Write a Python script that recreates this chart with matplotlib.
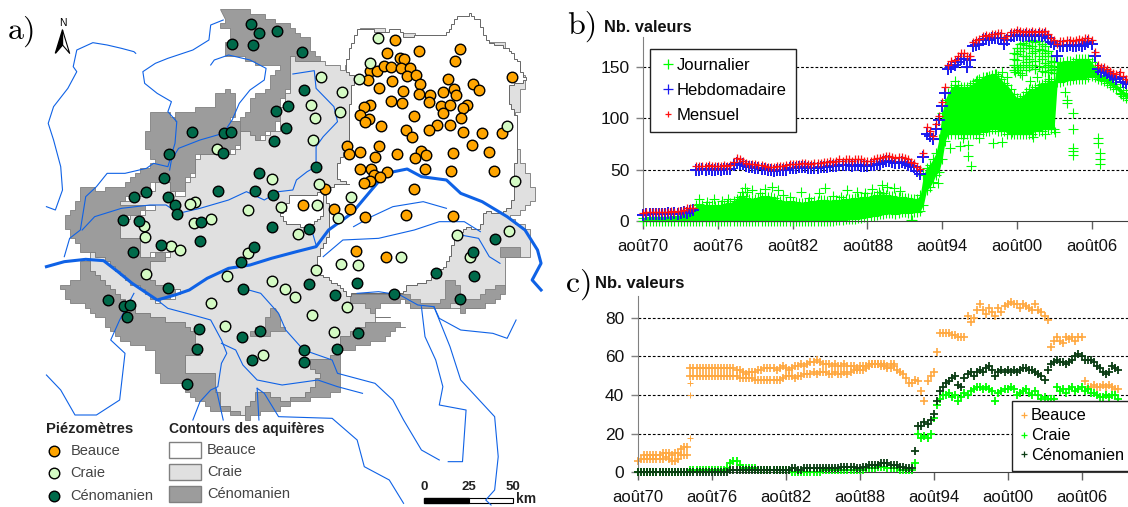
import numpy as np
import matplotlib
matplotlib.use("Agg")
import matplotlib.pyplot as plt

plt.rcParams['font.family'] = ['Liberation Sans', 'DejaVu Sans']

# ---- series, one value per quarter from aout 1970 to aout 2009
hebdo = [6,7,7,7, 7,7,7,7, 8,7,8,7, 8,9,8,10,
         11,50,50,51, 50,51,50,50, 51,50,51,51, 51,55,57,56,
         56,54,53,53, 52,52,51,51, 50,50,49,50, 50,50,50,52,
         52,52,53,53, 53,52,52,52, 52,53,53,53, 54,54,54,55,
         55,55,55,54, 55,55,54,54, 54,55,55,56, 56,58,59,59,
         58,57,57,58, 57,55,54,53, 49,46,62,85, 83,80,90,98,
         112,125,148,150, 152,155,158,158, 150,157,170,171, 172,176,177,176,
         178,178,178,178, 172,176,180,180, 181,181,180,181, 180,181,180,181,
         180,181,178,174, 172,160,170,170, 170,171,170,170, 171,170,172,174,
         172,160,148,145, 146,144,142,140, 138,140,135,134, 133]
mensuel = [8,9,9,9, 9,9,9,9, 9,10,9,10, 10,11,13,13,
           13,54,54,54, 54,55,54,54, 54,54,55,54, 55,58,61,60,
           59,57,56,56, 56,55,55,54, 53,53,53,54, 54,54,55,56,
           56,56,56,57, 57,56,56,57, 57,57,58,58, 59,58,59,60,
           59,60,60,59, 60,60,60,59, 59,59,60,61, 61,62,63,63,
           62,61,62,62, 61,60,58,57, 53,51,66,92, 88,83,94,102,
           116,130,152,156, 157,160,163,163, 160,160,174,176, 177,180,181,180,
           182,182,183,183, 178,180,184,184, 186,185,184,185, 184,185,184,185,
           184,185,182,178, 176,172,175,175, 176,176,175,176, 177,176,178,178,
           176,164,152,150, 150,148,146,144, 143,145,141,138, 137]
journalier_haut = [3,3,4,4, 4,4,4,4, 4,4,5,5, 5,6,7,9,
                   11,16,17,16, 15,15,16,15, 15,16,16,17, 18,20,22,24,
                   25,23,22,21, 22,23,24,25, 24,24,23,21, 20,19,19,20,
                   19,19,18,18, 18,19,19,20, 20,21,21,20, 20,20,21,21,
                   21,22,22,22, 23,23,23,24, 24,24,25,26, 26,27,26,25,
                   25,24,24,24, 23,23,22,22, 22,26,45,52, 55,60,66,80,
                   105,118,125,130, 132,132,130,130, 130,132,134,136, 138,140,140,141,
                   142,143,141,138, 134,132,128,124, 120,120,122,126, 128,128,130,132,
                   133,134,136,136, 135,155,155,155, 156,156,155,158, 158,158,158,158,
                   155,150,145,142, 141,140,137,135, 133,130,127,125, 123]
journalier_bas = [0,0,0,0, 0,0,0,0, 0,0,0,0, 0,0,0,0,
                  0,0,0,0, 0,0,0,0, 0,0,0,0, 0,0,0,0,
                  0,0,0,0, 0,0,0,0, 0,0,0,0, 0,0,0,0,
                  0,0,0,0, 0,0,0,0, 0,0,0,0, 0,0,1,1,
                  1,2,2,2, 2,3,3,4, 4,5,5,6, 7,7,8,8,
                  8,7,8,9, 9,8,9,9, 9,10,16,30, 33,38,45,48,
                  60,78,85,85, 85,85,85,85, 85,85,85,85, 85,87,88,88,
                  90,90,88,88, 88,85,85,85, 85,85,85,85, 85,85,88,88,
                  88,90,90,90, 90,135,135,136, 137,137,138,138, 138,138,138,140,
                  141,140,138,137, 136,134,132,130, 128,125,122,120, 118]
# upper cluster of daily values, 2000-2003, four rows of points
amas_annees = [29.75,30,30.25,30.5,30.75,31,31.25,31.5,31.75,32,32.25,32.5,32.75,33]
amas_rang1 = [163,168,172,173,171,175,176,174,175,172,170,165,160,155]
amas_rang2 = [158,162,165,168,160,168,170,165,167,166,163,160,156,151]
amas_rang3 = [152,157,150,160,155,158,163,156,160,158,154,152,150,148]
amas_rang4 = [147,150,144,152,147,150,152,148,151,146,150,145,147,144]
# isolated daily values
isoles_annees = [24.6,25.4,26.1,26.1,26.3,28.1,28.8,27,25.7,29.6,31.3,32.3,33.1,34,34.5,34.5,34.5,
                 34.5,34.5,36.5,36.5,36.7,36.7,36.7,38.4,21.55,23.7,33.9,34,8.15,8.3,10.3,10.8,
                 12.7,14.6,14.1,16.4,17.2,19.2,20.1,4.5,5.7,21.5,31.05,29.2,28.8,32.3,29.85,30.1,
                 26.8,27.6,28.3,25,30.4,31.6,32.6,
                 7.9,8.7,9.4,9.8,11.2,11.8,13.3,15.2,15.9,17.8,18.4,18.9,19.6,20.6,5.1,6.3,6.8]
isoles_valeurs = [71,73,74,63,54,76,77,81,81,87,82,85,87,115,105,90,71,
                  68,64,81,76,66,60,56,124,1,37,126,118,32,28,33,30,
                  28,32,27,30,28,35,32,22,22,1,136,140,145,145,145,147,
                  137,140,143,136,142,140,138,
                  28,30,27,31,26,24,23,25,24,27,31,28,33,29,19,20,22]

beauce = [6,7,7,7, 7,7,7,7, 7,8,7,6, 6,7,9,9,
          9,50,50,50, 50,50,50,50, 50,50,50,50, 50,50,50,50,
          50,49,49,49, 49,49,48,48, 48,48,48,48, 48,48,48,49,
          50,50,50,49, 50,50,51,51, 51,52,51,52, 52,52,51,51,
          52,51,51,52, 51,52,53,53, 53,53,54,55, 56,56,56,55,
          55,54,54,55, 53,52,51,49, 46,46,48,47, 42,37,47,50,
          52,62,72,72, 72,72,71,71, 70,70,70,81, 78,80,84,87,
          84,82,85,83, 81,85,83,86, 87,88,87,87, 85,87,86,85,
          84,87,84,83, 81,79,65,68, 70,68,67,70, 69,70,68,70,
          70,47,44,44, 45,44,44,45, 44,45,44,43, 43]
# second level of the Beauce count, aout 1970 + 0.5 year to 1990
beauce_sup = [9,9, 9,9,9,9, 10,10,10,9, 10,10,12,13,
              13,54,54,54, 54,54,54,54, 54,54,54,54, 54,54,54,54,
              53,53,52,51, 52,52,52,53, 53,54,54,54, 54,53,54,55,
              54,53,54,55, 55,56,55,56, 57,57,58,57, 56,56,56,55,
              56,55,55,56, 55,55,55,54, 55,55,55,56, 56,56,56,56,
              56,55,56,56]
beauce_saut_annees = [4.2,4.2,4.2]
beauce_saut_valeurs = [18,40,46]
craie = [0,0,0,0, 0,0,0,0, 0,0,0,0, 0,0,0,0,
         0,1,1,1, 1,1,1,1, 1,1,1,1, 1,2,5,6,
         6,4,2,2, 2,2,2,1, 1,1,1,1, 1,1,1,1,
         1,1,0,0, 0,0,0,0, 0,0,0,0, 1,1,1,1,
         1,1,1,1, 1,1,1,1, 1,1,2,2, 2,2,3,3,
         3,2,2,2, 2,1,1,1, 1,1,5,20, 18,19,18,20,
         28,35,38,40, 40,41,39,40, 37,39,41,40, 42,43,44,44,
         43,44,43,42, 37,41,42,43, 43,44,43,40, 41,42,43,41,
         40,42,40,38, 39,38,38,38, 44,42,43,41, 43,44,42,43,
         44,42,43,41, 41,40,39,39, 40,39,40,40, 38]
cenomanien = [0,0,0,0, 0,0,0,0, 0,0,0,0, 0,0,0,0,
              0,0,0,0, 0,0,0,0, 0,0,0,0, 0,0,1,1,
              1,1,1,1, 1,1,1,1, 1,1,1,1, 1,1,1,1,
              1,1,2,2, 1,1,2,2, 2,2,2,2, 2,2,2,2,
              2,2,3,3, 3,3,3,2, 2,3,3,4, 4,4,4,5,
              5,5,4,4, 4,3,3,2, 2,2,11,24, 24,26,25,27,
              30,37,42,44, 46,47,49,50, 45,44,49,51, 52,50,52,53,
              52,54,55,53, 50,52,53,52, 53,52,53,52, 53,54,54,53,
              53,52,51,50, 48,53,56,57, 58,57,57,56, 57,58,60,61,
              60,58,58,58, 57,55,54,52, 51,52,55,54, 53]
annees = np.arange(len(hebdo)) / 4
tick_annees = [0, 6, 12, 18, 24, 30, 36]
tick_labels = ['août70', 'août76', 'août82', 'août88', 'août94', 'août00', 'août06']

# ---- map, in units of 1/2.8 px across and 1/3 px down
piezo_beauce = [(1107,120),(1174,153),(1287,146),(1274,184),(1084,160),(1121,173),(1131,178),(1035,212),(1057,212),
                (1075,198),(1096,202),(1124,204),(1149,203),(1030,239),(1141,229),(1166,226),(1097,242),(1177,252),
                (1255,238),(1433,230),(1062,263),(1129,273),(1172,283),(1203,286),(1241,275),(1271,267),(1276,286),
                (1325,253),(1342,269),(1094,303),(1126,308),(1200,305),(1035,315),(1018,322),(1236,319),(1261,314),
                (1307,314),(1296,325),(1241,338),(1159,348),(1009,345),(1033,356),(1021,365),(1290,354),(1068,377),
                (1225,375),(1260,376),(1200,390),(1138,390),(1297,395),(1351,400),(1405,400),(1153,411),(1323,434),
                (973,438),(1060,438),(976,461),(1008,455),(1049,472),(1112,461),(1179,453),(1163,474),(1194,466),
                (1269,459),(1370,455),(1008,507),(1040,508),(1191,508),(1263,514),(1384,514),(1084,516),(1047,525),
                (1063,530),(1035,543),(1019,550),(910,566),(1158,566),(848,614),(936,626),(981,628),(1022,652),
                (1137,646),(1269,647),(998,754),(1081,772)]
piezo_craie = [(1058,115),(1037,188),(899,232),(1006,236),(958,277),(872,316),(951,336),(881,355),(877,419),(1420,379),
               (609,447),(761,536),(1443,543),(892,553),(545,606),(531,612),(887,614),(787,620),(694,631),(983,591),
               (947,653),(590,658),(543,668),(404,677),(405,711),(480,737),(503,751),(1424,692),(1279,706),(835,702),
               (695,760),(1124,770),(1316,770),(409,821),(637,829),(885,810),(954,792),(1003,795),(763,843),(797,868),
               (827,890),(592,908),(972,920),(873,945),(631,977),(936,997),(737,1066)]
piezo_ceno = [(703,73),(777,92),(726,100),(649,131),(708,136),(846,155),(851,269),(807,319),(772,332),(802,384),
              (537,396),(627,398),(646,396),(768,424),(624,459),(474,461),(884,502),(725,519),(460,534),(611,572),
              (714,572),(765,586),(410,575),(375,590),(470,592),(490,616),(497,643),(344,660),(388,662),(562,666),
              (763,682),(864,687),(561,723),(450,735),(372,755),(711,740),(675,785),(1385,718),(1325,757),(1222,819),
              (1327,829),(471,863),(680,868),(864,853),(999,848),(937,886),(1104,883),(1287,896),(303,899),(348,917),
              (365,915),(355,950),(556,986),(727,994),(678,1010),(1003,1000),(553,1048),(852,1050),(945,1048),
              (705,1079),(852,1086),(524,1153)]

ceno_nord = [(610,35),(660,30),(710,40),(790,75),(850,115),(897,180),(810,175),(805,270),(795,300),(785,335),(775,385),
             (740,410),(710,420),(680,390),(650,365),(690,330),(700,300),(740,260),(780,195),(740,190),(700,178),
             (650,165),(630,140),(640,105),(650,90),(610,75),(625,60)]
ceno_ouest = [(600,285),(630,272),(655,300),(650,365),(670,390),(672,440),(640,462),(545,470),(548,515),(525,525),
              (520,580),(495,592),(470,555),(435,545),(415,570),(340,608),(430,620),(395,640),(335,660),(335,710),
              (385,720),(385,765),(470,760),(465,790),(415,790),(420,830),(500,875),(440,905),(380,860),(310,800),
              (245,750),(215,720),(190,690),(185,650),(200,625),(205,600),(225,590),(230,558),(260,575),(330,555),
              (395,510),(440,490),(405,430),(425,335),(465,335),(495,360),(495,335),(560,325),(600,310)]
ceno_sud = [(225,785),(260,785),(400,930),(520,960),(1000,960),(1080,960),(1130,985),(1090,1015),(950,1060),(945,1180),
            (820,1210),(720,1245),(700,1255),(610,1225),(545,1195),(520,1155),(460,1155),(440,1100),(430,1050),
            (355,1020),(310,975),(270,935),(220,905),(180,890),(175,855),(230,825)]
ceno_est = [(975,885),(1130,885),(1150,895),(1215,915),(1240,880),(1250,840),(1280,840),(1285,940),(1300,940),
            (1300,925),(1345,920),(1400,880),(1420,880),(1420,850),(1400,850),(1345,890),(1300,890),(1300,900),
            (1240,925),(1150,930),(1140,900),(1050,925),(1050,935),(1020,915),(975,900)]
ceno_ilot1 = [(775,930),(745,960),(740,975),(700,1000),(700,1012),(800,990),(790,960)]
ceno_ilot2 = [(1395,745),(1450,745),(1450,770),(1395,770)]
craie_contour = [(810,175),(897,182),(965,215),(1003,135),(1003,85),(1060,85),(1100,100),(1400,130),(1470,240),(1440,400),
                 (1450,460),(1495,575),(1490,620),(1430,655),(1480,695),(1480,770),(1410,770),(1420,850),(1400,880),
                 (1345,920),(1240,925),(1150,930),(1130,885),(975,885),(1020,915),(1050,925),(1050,950),(1085,955),
                 (1040,965),(950,1020),(945,1065),(905,1080),(860,1090),(890,1140),(850,1190),(800,1205),(735,1170),
                 (715,1170),(720,1200),(690,1240),(625,1215),(610,1170),(605,1115),(525,1120),(515,1065),(555,1060),
                 (545,1000),(520,965),(470,960),(385,935),(380,920),(280,830),(255,790),(245,752),(310,800),(380,860),
                 (440,905),(500,875),(420,830),(415,790),(465,790),(470,760),(385,765),(385,720),(335,710),(335,660),
                 (395,640),(430,620),(340,608),(415,570),(435,545),(470,555),(495,592),(520,580),(525,525),(548,515),
                 (545,470),(640,462),(672,440),(670,390),(680,395),(710,420),(740,410),(775,385),(785,335),(795,300),
                 (805,270)]
beauce_contour = [(1003,85),(1035,85),(1050,95),(1115,90),(1125,110),(1150,108),(1250,100),(1275,55),(1310,42),(1340,60),
                  (1365,130),(1400,135),(1430,160),(1450,185),(1470,240),(1425,265),(1425,310),(1450,360),(1445,470),
                  (1440,560),(1440,590),(1430,620),(1405,640),(1360,630),(1345,690),(1310,680),(1270,720),(1265,770),
                  (1245,800),(1210,840),(1140,860),(1125,880),(1040,880),(975,885),(960,860),(885,815),(885,780),(900,745),
                  (920,690),(915,585),(905,600),(905,650),(870,680),(805,672),(785,640),(800,620),(810,585),(880,585),
                  (905,560),(980,550),(945,530),(945,490),(975,430),(975,350),(985,270),(990,225),(965,215),(975,150)]

loire = [(130,800),(180,785),(240,778),(290,782),(330,815),(370,850),(440,900),(490,885),(530,870),(580,835),(640,805),
         (700,795),(760,775),(830,755),(885,740),(920,690),(985,640),(1040,570),(1080,520),(1140,507),(1180,530),
         (1250,540),(1290,580),(1350,605),(1420,650),(1470,690),(1505,750),(1515,790),(1490,840),(1515,870)]
rivieres = [
    [(380,160),(375,155),(340,145),(300,135),(260,128),(215,150),(205,200),(215,215),(190,265),(150,320),(135,370),(150,420),
     (170,500),(175,570),(165,600),(155,630),(130,620)],
    [(625,60),(590,75),(585,120),(540,150),(470,175),(435,190),(400,215),(405,250),(440,280),(480,305),(470,335),
     (495,365),(490,430),(470,500),(430,490),(410,505),(350,520),(300,520),(270,560),(240,590),(225,690),(195,715),(180,770)],
    [(590,195),(600,180),(640,165),(700,180),(745,205),(740,240),(700,270),(670,310),(650,360),(625,400),(560,420),
     (500,445),(480,480),(475,510)],
    [(820,222),(880,212),(885,265),(935,320),(945,365),(905,410),(885,440),(885,500),(860,515),(830,540),(820,570),
     (780,575),(740,600),(690,575),(640,600),(560,625),(500,640),(465,615),(420,615),(340,625),(265,650),(230,690)],
    [(905,770),(960,720),(1060,715),(1160,690),(1230,665),(1300,665),(1345,695)],
    [(990,680),(1040,650),(1100,620),(1185,605),(1250,625)],
    [(1000,880),(1060,875),(1120,885),(1170,915),(1215,920),(1230,955),(1290,990),(1380,1000),(1420,1015),(1445,960)],
    [(440,900),(470,925),(540,945),(590,960),(620,1020),(635,1060),(620,1090),(610,1160),(590,1170),(560,1205),(540,1260)],
    [(620,1030),(660,1050),(680,1095),(720,1140),(790,1155),(890,1140),(945,1160),(1015,1180)],
    [(680,865),(730,880),(780,940),(800,990),(850,1050),(930,1080),(945,1120),(1050,1150),(1100,1200),(1130,1260),
     (1180,1350),(1230,1380)],
    [(1180,920),(1190,1010),(1220,1080),(1240,1160),(1230,1215),(1305,1230),(1295,1385),(1255,1385)],
    [(1215,920),(1260,1040),(1290,1140),(1385,1250),(1395,1370),(1385,1470),(1360,1500),(1375,1515)],
    [(720,1165),(740,1180),(780,1250),(930,1255),(1000,1320),(1020,1400),(1090,1440),(1130,1510)],
    [(130,1125),(170,1170),(210,1245),(270,1245),(335,1200),(350,1060),(310,1020),(335,960),(375,880)],
    [(720,1165),(725,1260)],
    [(605,1165),(625,1260)],
    [(1290,705),(1340,715),(1370,770),(1400,790)],
    [(870,680),(885,735)],
]

ORANGE = '#FFA500'
PALE = '#D4FBC4'
SOMBRE = '#006A4A'
BLEU = '#0F62E6'
FOND_CRAIE = '#E0E0E0'
FOND_CENO = '#9C9C9C'


def escalier(contour, pas):
    # raster look of the outlines: edges broken into axis-aligned steps
    xs, ys = [], []
    for (x0, y0), (x1, y1) in zip(contour, contour[1:] + contour[:1]):
        n = max(int(max(abs(x1-x0), abs(y1-y0)) / pas), 1)
        for k in range(n):
            x = round((x0 + (x1-x0)*k/n) / pas) * pas
            y = round((y0 + (y1-y0)*k/n) / pas) * pas
            if xs:
                xs.append(x)
                ys.append(ys[-1])
            xs.append(x)
            ys.append(y)
    return xs, ys


fig = plt.figure(figsize=(11.28, 5.07), dpi=100)

# ---- a) map
ax = fig.add_axes([0, 0, 560/1128, 1])
ax.set_xlim(0, 1568)
ax.set_ylim(1521, 0)
ax.axis('off')

for zone in [ceno_nord, ceno_ouest, ceno_sud]:
    ax.fill(*escalier(zone, 14), facecolor=FOND_CENO, edgecolor='#808080', lw=0.6, zorder=1)
ax.fill(*escalier(craie_contour, 14), facecolor=FOND_CRAIE, edgecolor='#777777', lw=0.6, zorder=2)
for zone in [ceno_est, ceno_ilot1, ceno_ilot2]:
    ax.fill(*escalier(zone, 14), facecolor=FOND_CENO, edgecolor='#808080', lw=0.6, zorder=3)
ax.fill(*escalier(beauce_contour, 8), facecolor='white', edgecolor='#666666', lw=0.7, zorder=3)

for r in rivieres:
    ax.plot(*zip(*r), color=BLEU, lw=0.8, zorder=4)
ax.plot(*zip(*loire), color=BLEU, lw=2.2, zorder=4)

for pts, coul in [(piezo_beauce, ORANGE), (piezo_craie, PALE), (piezo_ceno, SOMBRE)]:
    ax.plot(*zip(*pts), 'o', ms=7.6, mfc=coul, mec='black', mew=1, zorder=5)

# north arrow
ax.fill([155, 175, 175], [160, 90, 135], color='black', zorder=6)
ax.plot([175, 195, 175], [90, 160, 135], color='black', lw=0.8, zorder=6)
ax.text(176, 68, 'N', ha='center', va='center', fontsize=7.5)

# map legend
ax.text(130, 1287, 'Piézomètres', fontsize=10.7, fontweight='bold', va='center', color='#222222')
ax.text(472, 1286, 'Contours des aquifères', fontsize=10, fontweight='bold', va='center', color='#222222')
for y, coul, nom in [(1354, ORANGE, 'Beauce'), (1420, PALE, 'Craie'), (1487, SOMBRE, 'Cénomanien')]:
    ax.plot([152], [y], 'o', ms=7.6, mfc=coul, mec='black', mew=1)
    ax.text(197, y, nom, fontsize=10.5, va='center', color='#444444')
for y, coul, nom in [(1325, 'white', 'Beauce'), (1391, FOND_CRAIE, 'Craie'), (1457, FOND_CENO, 'Cénomanien')]:
    ax.fill([472, 564, 564, 472], [y, y, y+50, y+50], facecolor=coul, edgecolor='#808080', lw=1)
    ax.text(580, y+25, nom, fontsize=10.5, va='center', color='#444444')

# scale bar
ax.fill([1188, 1313, 1313, 1188], [1493, 1493, 1510, 1510], color='black')
ax.fill([1313, 1437, 1437, 1313], [1493, 1493, 1510, 1510], facecolor='white', edgecolor='black', lw=0.8)
for x, lab in [(1188, '0'), (1313, '25'), (1437, '50')]:
    ax.text(x, 1460, lab, fontsize=9.5, fontweight='bold', ha='center', va='center', color='#222222')
ax.text(1472, 1496, 'km', fontsize=10, fontweight='bold', ha='center', va='center', color='#222222')


def regler_axes(a, ymax, yticks):
    a.set_ylim(0, ymax)
    a.set_xticks(tick_annees)
    a.set_xticklabels(tick_labels)
    a.set_yticks(yticks)
    a.patch.set_alpha(0)
    for cote in ['top', 'right']:
        a.spines[cote].set_visible(False)
    a.spines['left'].set_color('#808080')
    a.spines['bottom'].set_color('#404040')
    a.tick_params(axis='x', length=6, width=1, color='#606060', labelsize=12, pad=7, labelcolor='#111111')
    a.tick_params(axis='y', length=5, width=1, color='#808080', labelsize=12.5, pad=5, labelcolor='#111111')
    for y in yticks:
        if y > 0:
            a.axhline(y, color='black', lw=0.8, ls=(0, (2.5, 1.8)), zorder=1)


# ---- b) all piezometers
axb = fig.add_axes([643.3/1128, (507-221.3)/507, (1128-643.3)/1128, (221.3-36.7)/507])
axb.set_xlim(0, (1128-643.3)/12.45)
regler_axes(axb, 179.2, [0, 50, 100, 150])
VERT = '#00FF00'
axb.fill_between(annees, journalier_bas, journalier_haut, color=VERT, lw=0, zorder=2)
axb.plot(annees, journalier_haut, '+', color=VERT, ms=7, mew=0.8, clip_on=False, zorder=2)
axb.plot(annees, journalier_bas, '+', color=VERT, ms=7, mew=0.8, clip_on=False, zorder=2)
for rang in [amas_rang1, amas_rang2, amas_rang3, amas_rang4]:
    axb.plot(amas_annees, rang, '+', color=VERT, ms=7, mew=0.9, zorder=2)
axb.plot(isoles_annees, isoles_valeurs, '+', color=VERT, ms=7, mew=0.8, zorder=2)
axb.plot(annees, hebdo, '+', color='#1A1AF0', ms=8, mew=1.4, clip_on=False, zorder=3)
axb.plot(annees, mensuel, '+', color='#FF1010', ms=5.5, mew=0.9, clip_on=False, zorder=4)
h1 = plt.Line2D([], [], ls='', marker='+', color=VERT, ms=7, mew=0.9)
h2 = plt.Line2D([], [], ls='', marker='+', color='#1A1AF0', ms=7, mew=0.9)
h3 = plt.Line2D([], [], ls='', marker='+', color='#FF1010', ms=5, mew=0.9)
leg = axb.legend([h1, h2, h3], ['Journalier', 'Hebdomadaire', 'Mensuel'], loc='upper left',
                 bbox_to_anchor=(649.5/1128, (507-48.7)/507), bbox_transform=fig.transFigure,
                 fancybox=False, framealpha=1, edgecolor='#222222', fontsize=12, labelspacing=0.6,
                 handletextpad=0, handlelength=1.1, numpoints=1, borderpad=0.55, borderaxespad=0)
leg.set_zorder(10)
leg.get_frame().set_linewidth(1)

# ---- c) by aquifer
axc = fig.add_axes([638/1128, (507-472.3)/507, (1128-638)/1128, (472.3-296)/507])
axc.set_xlim(0, (1128-638)/12.32)
regler_axes(axc, 91.2, [0, 20, 40, 60, 80])
COUL_B = '#FFA840'
axc.plot(annees, beauce, '+', color=COUL_B, ms=5.5, mew=1.2, clip_on=False, zorder=2)
axc.plot(annees[2:2+len(beauce_sup)], beauce_sup, '+', color=COUL_B, ms=5.5, mew=1.2, zorder=2)
axc.plot(beauce_saut_annees, beauce_saut_valeurs, '+', color=COUL_B, ms=4, mew=0.7, zorder=2)
axc.plot(annees, craie, '+', color=VERT, ms=5.5, mew=1.3, clip_on=False, zorder=3)
axc.plot(annees, cenomanien, '+', color='#0B3D14', ms=5.5, mew=1.3, clip_on=False, zorder=4)
h4 = plt.Line2D([], [], ls='', marker='+', color=COUL_B, ms=4.5, mew=0.9)
h5 = plt.Line2D([], [], ls='', marker='+', color=VERT, ms=4.5, mew=0.9)
h6 = plt.Line2D([], [], ls='', marker='+', color='#0B3D14', ms=4.5, mew=0.9)
leg = axc.legend([h4, h5, h6], ['Beauce', 'Craie', 'Cénomanien'], loc='upper left',
                 bbox_to_anchor=(1012/1128, (507-401)/507), bbox_transform=fig.transFigure,
                 fancybox=False, framealpha=1, edgecolor='#222222', fontsize=11.8, labelspacing=0.3,
                 handletextpad=0.1, handlelength=0.6, numpoints=1, borderpad=0.45, borderaxespad=0)
leg.set_zorder(10)
leg.get_frame().set_linewidth(1)

# ---- panel letters and titles
fig.text(8/1128, 1-31/507, 'a)', family='cmr10', fontsize=23, va='center')
fig.text(567/1128, 1-26/507, 'b)', family='cmr10', fontsize=23, va='center')
fig.text(566/1128, 1-284/507, 'c)', family='cmr10', fontsize=23, va='center')
fig.text(604/1128, 1-27/507, 'Nb. valeurs', fontsize=11.7, fontweight='bold', va='center', color='#111111')
fig.text(595/1128, 1-284/507, 'Nb. valeurs', fontsize=12, fontweight='bold', va='center', color='#111111')

fig.savefig('out.png', dpi=100)
